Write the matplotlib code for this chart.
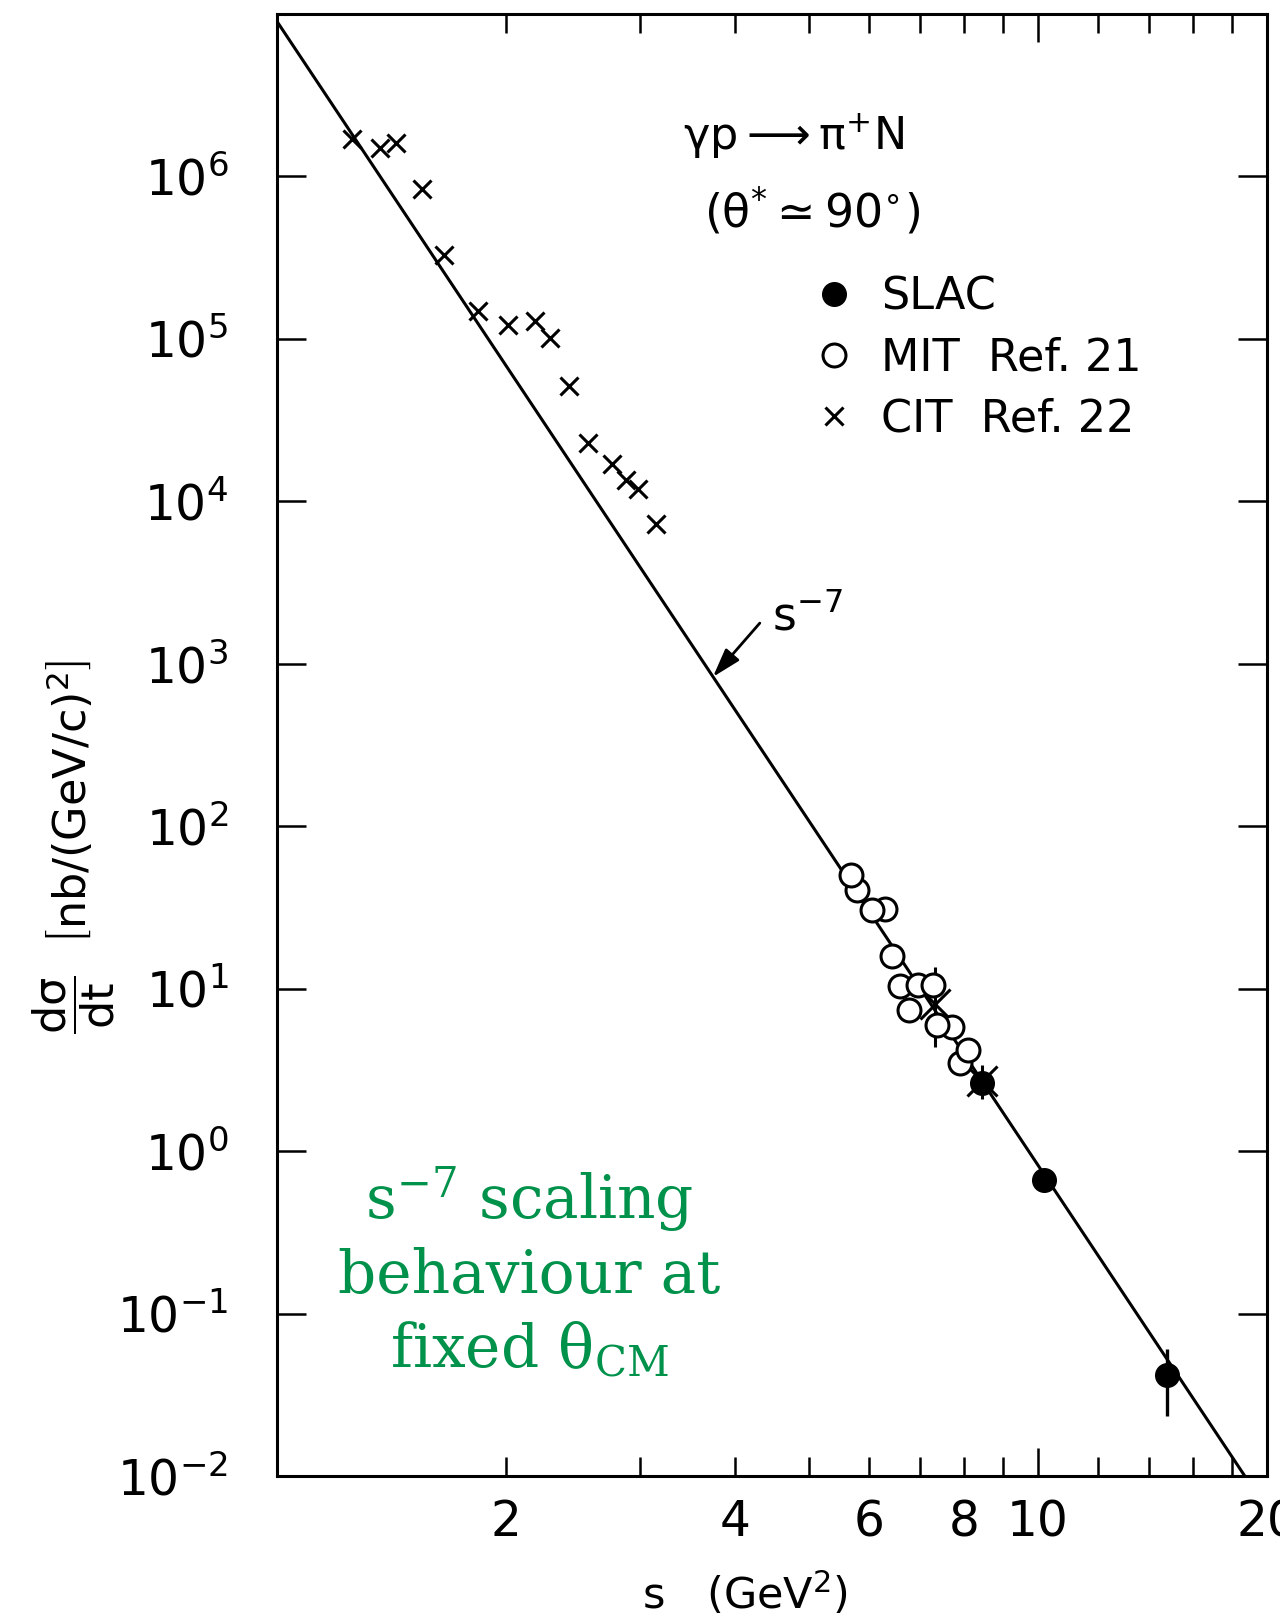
import math
import matplotlib
matplotlib.use('Agg')
import matplotlib.pyplot as plt
from matplotlib.ticker import FixedLocator, FuncFormatter, NullLocator

plt.rcParams['font.family'] = ['DejaVu Sans']
plt.rcParams['mathtext.default'] = 'regular'

## s^-7 reference line, read at its two ends
line_s = [1.0, 18.7]
line_y = [9.0e6, 1.0e-2]

## CIT crosses (Ref. 22)
cit_s = [1.256, 1.366, 1.434, 1.549, 1.658, 1.839, 2.014, 2.183, 2.285, 2.422,
         2.561, 2.759, 2.875, 2.979, 3.146]
cit_y = [1.70e6, 1.50e6, 1.60e6, 8.4e5, 3.3e5, 1.49e5, 1.21e5, 1.29e5, 1.01e5, 5.14e4,
         2.27e4, 1.69e4, 1.35e4, 1.19e4, 7.3e3]

## CIT points hidden in the MIT / SLAC cluster, with error bars
cit_hi_s = [7.33, 8.45]
cit_hi_y = [8.0, 2.7]
cit_hi_lo = [4.4, 2.1]
cit_hi_hi = [13.6, 3.4]

## MIT open circles (Ref. 21)
mit_s = [5.78, 5.68, 6.30, 6.05, 6.43, 6.76, 6.59, 6.96, 7.29, 7.70, 7.36, 7.90, 8.10]
mit_y = [40.4, 49.9, 31.1, 30.7, 15.8, 7.4, 10.4, 10.6, 10.6, 5.8, 6.0, 3.5, 4.2]

## SLAC filled circles
slac_s = [8.44, 10.2, 14.77]
slac_y = [2.61, 0.667, 0.0416]
slac_lo = [2.61, 0.667, 0.0233]
slac_hi = [2.61, 0.667, 0.0608]

x_ticks_minor = [2, 3, 4, 5, 6, 7, 8, 9, 12, 14, 16, 18, 20]
x_tick_labels = {2: '2', 4: '4', 6: '6', 8: '8', 10: '10', 20: '20'}
y_ticks = [1e-2, 1e-1, 1e0, 1e1, 1e2, 1e3, 1e4, 1e5, 1e6]

green = '#00914B'

fig = plt.figure(figsize=(12.8, 16.21), dpi=100)
ax = fig.add_axes([277 / 1280, 1 - 1476 / 1621, 990 / 1280, 1462 / 1621])
ax.set_xscale('log')
ax.set_yscale('log')

ax.plot(line_s, line_y, color='k', lw=2.2, zorder=2)

cit, = ax.plot(cit_s, cit_y, 'x', color='k', ms=13, mew=2.2, zorder=3)
ax.errorbar(cit_hi_s, cit_hi_y,
            yerr=[[y - l for y, l in zip(cit_hi_y, cit_hi_lo)],
                  [h - y for y, h in zip(cit_hi_y, cit_hi_hi)]],
            fmt='x', color='k', ms=22, mew=2.2, elinewidth=2.2, capsize=0, zorder=3)

mit, = ax.plot(mit_s, mit_y, 'o', mfc='white', mec='k', ms=16.5, mew=2.2, zorder=4)

ax.errorbar(slac_s, slac_y,
            yerr=[[y - l for y, l in zip(slac_y, slac_lo)],
                  [h - y for y, h in zip(slac_y, slac_hi)]],
            fmt='none', ecolor='k', elinewidth=2.4, capsize=0, zorder=5)
slac, = ax.plot(slac_s, slac_y, 'o', color='k', ms=17, zorder=5)

ax.set_xlim(1, 20)
ax.set_ylim(1e-2, 1e7)

## ticks
ax.xaxis.set_major_locator(FixedLocator([10]))
ax.xaxis.set_minor_locator(FixedLocator(x_ticks_minor))
fmt = FuncFormatter(lambda v, p: x_tick_labels.get(int(round(v)), ''))
ax.xaxis.set_major_formatter(fmt)
ax.xaxis.set_minor_formatter(fmt)
ax.yaxis.set_major_locator(FixedLocator(y_ticks))
ax.yaxis.set_minor_locator(NullLocator())
ax.yaxis.set_major_formatter(FuncFormatter(lambda v, p: r'$10^{%d}$' % round(math.log10(v))))

ax.tick_params(axis='x', which='major', direction='in', length=20, width=1.8,
               top=True, bottom=True, labelsize=35, pad=16)
ax.tick_params(axis='x', which='minor', direction='in', length=13.5, width=1.8,
               top=True, bottom=True, labelsize=35, pad=16)
ax.tick_params(axis='y', which='major', direction='in', length=21, width=1.8,
               left=True, right=True, labelsize=35, pad=35)
for sp in ax.spines.values():
    sp.set_linewidth(2.2)

ax.set_xlabel(r'$s\ \ \ (GeV^{2})$', fontsize=31, va='center')
ax.xaxis.set_label_coords(0.473, -0.081)
ax.set_ylabel(r'$\dfrac{d\sigma}{dt}\ \ \left[nb/(GeV/c)^{2}\right]$', fontsize=32, va='center')
ax.yaxis.set_label_coords(-0.206, 0.43)

## s^-7 arrow
ax.annotate('', xy=(3.74, 830), xytext=(4.31, 1780),
            arrowprops=dict(arrowstyle='-|>,head_length=0.8,head_width=0.25',
                            color='k', lw=2, mutation_scale=22, shrinkA=0, shrinkB=0))
ax.text(4.47, 1610, r'$s^{-7}$', fontsize=33, ha='left', va='baseline')

## reaction
fig.text(794 / 1280, 1 - 136 / 1621, r'$\gamma p \longrightarrow \pi^{+} N$',
         fontsize=32, ha='center', va='center')
fig.text(812 / 1280, 1 - 212 / 1621, r'$(\theta^{*}\simeq 90^{\circ})$',
         fontsize=33, ha='center', va='center')

ax.legend([slac, mit, cit], ['SLAC', 'MIT  Ref. 21', 'CIT  Ref. 22'],
          loc='upper left', bbox_to_anchor=(812 / 1280, 1 - 276 / 1621),
          bbox_transform=fig.transFigure, frameon=False, fontsize=32,
          handlelength=1.0, handletextpad=0.55, labelspacing=0.4,
          borderpad=0, borderaxespad=0, numpoints=1)

fig.text(529 / 1280, 1 - 1272 / 1621,
         r'$s^{-7}$ scaling' + '\nbehaviour at\n' + r'fixed $\theta_{CM}$',
         fontsize=43, family='DejaVu Serif', color=green,
         ha='center', va='center', multialignment='center', linespacing=1.3)

fig.savefig('out.png', dpi=100)
